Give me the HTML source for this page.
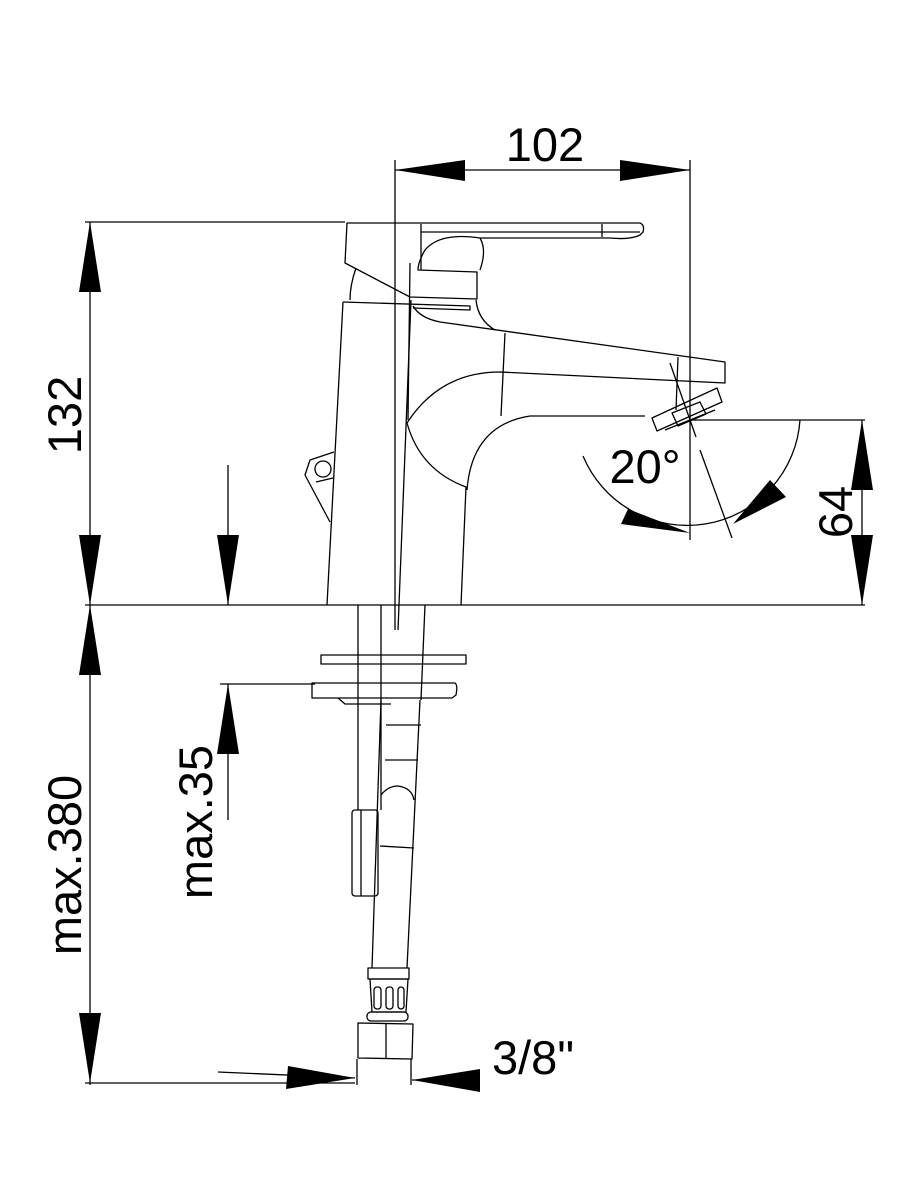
<!DOCTYPE html>
<html><head><meta charset="utf-8"><style>
html,body{margin:0;padding:0;background:#fff;}
svg{display:block;}
text{font-family:"Liberation Sans",sans-serif;fill:#000;}
</style></head><body>
<svg width="900" height="1200" viewBox="0 0 900 1200" xmlns="http://www.w3.org/2000/svg">
<g fill="none" stroke="#000" stroke-width="1.3" stroke-linejoin="round">
<line x1="395" y1="160" x2="395" y2="630"/>
<line x1="690" y1="160" x2="690" y2="540"/>
<line x1="395" y1="170" x2="690" y2="170"/>
<line x1="85" y1="222" x2="345" y2="222"/>
<line x1="90" y1="222" x2="90" y2="1085"/>
<line x1="85" y1="605" x2="865" y2="605"/>
<line x1="228" y1="465" x2="228" y2="605"/>
<line x1="690" y1="420" x2="865" y2="420"/>
<line x1="862" y1="420" x2="862" y2="605"/>
<line x1="220" y1="684" x2="315" y2="684"/>
<line x1="228" y1="684" x2="228" y2="820"/>
<line x1="85" y1="1083" x2="355" y2="1083"/>
<line x1="218" y1="1072" x2="355" y2="1078"/>
<line x1="412" y1="1080" x2="480" y2="1080"/>
<path d="M583,456 A113,113 0 0 0 800,420"/>
<line x1="700" y1="450" x2="732" y2="538"/>
<path d="M347,223 L640,223 Q645,225 643,232 L640,235 Q630,240 610,238 L480,238 Q440,232 425,250 Q418,262 418,270 L477,272 L477,299 L410,297 L345,263 Z"/>
<path d="M421,232 L640,232"/>
<line x1="421" y1="224" x2="421" y2="270"/>
<line x1="602" y1="224" x2="602" y2="237"/>
<path d="M480,238 Q487,250 480,270"/>
<path d="M356,268 Q350,285 350,300"/>
<path d="M343,302 L470,306 L470,310 L413,308"/>
<path d="M343,302 L327,605"/>
<path d="M413,306 Q420,318 440,322 L725,362 L725,383 L500,372 Q440,372 407,423 Q420,470 466,487 L461,605"/>
<path d="M476,300 Q478,320 495,330"/>
<path d="M645,416 L530,416 Q472,425 467,490"/>
<line x1="505" y1="333" x2="501" y2="416"/>
<line x1="678" y1="357" x2="676" y2="410"/>
<path d="M408,420 L410,263"/>
<path d="M411,300 L398,630"/>
<path d="M652,418 L717,388 L722,402 L657,431 Z"/>
<path d="M672,413 L700,402 L706,414 L678,426 Z"/>
<line x1="665" y1="430" x2="715" y2="410"/>
<line x1="670" y1="363" x2="696" y2="437"/>
<path d="M334,452 L310,460 L305,475 L330,522"/>
<circle cx="323" cy="469" r="8"/>
<line x1="316" y1="482" x2="333" y2="478"/>
<line x1="358" y1="605" x2="358" y2="810"/>
<line x1="381" y1="605" x2="381" y2="810"/>
<line x1="425" y1="605" x2="421" y2="700"/>
<rect x="321" y="655" width="145" height="9"/>
<path d="M312,683 L455,683 Q458,685 456,695 L452,698 L312,698 Z"/>
<path d="M338,698 L345,704 L391,704"/>
<path d="M386,725 L421,725"/>
<path d="M385,760 L418,760"/>
<path d="M381,700 L372,968"/>
<path d="M420,700 L407,968"/>
<path d="M381,795 Q388,786 398,786 Q412,788 414,800"/>
<path d="M380,846 L414,848"/>
<rect x="352" y="810" width="26" height="86" rx="3"/>
<line x1="361" y1="810" x2="361" y2="896"/>
<rect x="368" y="968" width="41" height="11"/>
<path d="M370,979 L408,979 L406,1012 L372,1012 Z"/>
<rect x="367" y="1012" width="41" height="9" rx="4"/>
<rect x="374" y="987" width="7" height="22" rx="3"/>
<rect x="386" y="987" width="7" height="22" rx="3"/>
<rect x="398" y="987" width="6" height="22" rx="3"/>
<path d="M358,1023 L413,1024 L412,1059 L358,1058 Z"/>
<line x1="386" y1="1023" x2="386" y2="1059"/>
<line x1="357" y1="1059" x2="357" y2="1085"/>
<line x1="411" y1="1059" x2="411" y2="1085"/>
</g>
<g fill="#000" stroke="none">
<polygon points="395,170 465,160 465,181"/>
<polygon points="690,170 620,160 620,181"/>
<polygon points="90,222 79,292 101,292"/>
<polygon points="90,605 79,535 101,535"/>
<polygon points="228,605 217,535 239,535"/>
<polygon points="862,420 851,490 873,490"/>
<polygon points="862,605 851,535 873,535"/>
<polygon points="90,605 79,675 101,675"/>
<polygon points="90,1083 79,1013 101,1013"/>
<polygon points="228,684 217,754 239,754"/>
<polygon points="355,1078 288,1066 286,1089"/>
<polygon points="412,1080 480,1069 480,1092"/>
<polygon points="690,533 628,509 621,524"/>
<polygon points="733,524 770,480 786,497"/>
</g>
<text x="545" y="161" font-size="47" text-anchor="middle">102</text>
<text x="645" y="483" font-size="47" text-anchor="middle">20°</text>
<text transform="translate(81,415) rotate(-90)" font-size="47" text-anchor="middle">132</text>
<text transform="translate(852,512) rotate(-90)" font-size="47" text-anchor="middle">64</text>
<text transform="translate(81,865) rotate(-90)" font-size="47" text-anchor="middle">max.380</text>
<text transform="translate(212,822) rotate(-90)" font-size="47" text-anchor="middle">max.35</text>
<text x="533" y="1074" font-size="47" text-anchor="middle">3/8"</text>
</svg>
</body></html>
